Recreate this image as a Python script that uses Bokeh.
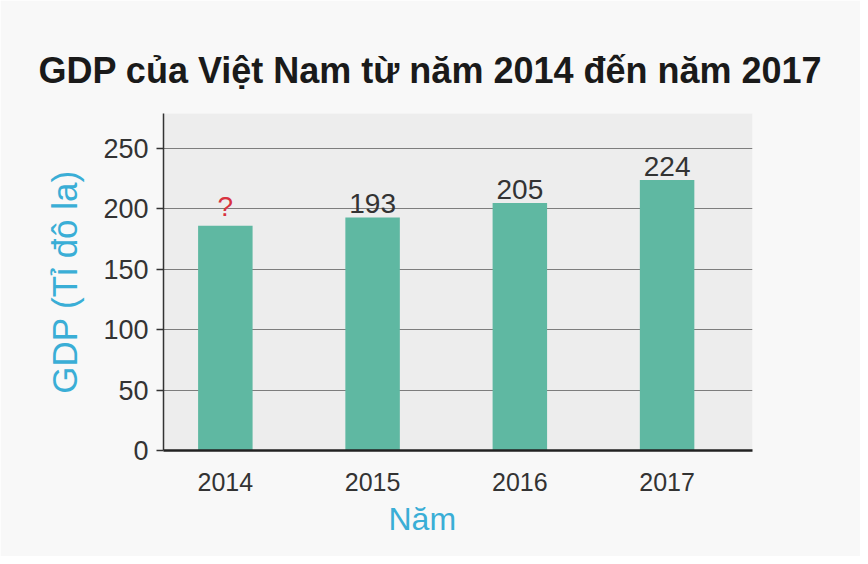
from bokeh.plotting import figure
from bokeh.models import Range1d, ColumnDataSource, LabelSet, Title, FixedTicker
from bokeh.core.properties import value
from bokeh.embed import file_html
from bokeh.resources import INLINE

years = ["2014", "2015", "2016", "2017"]
gdp = [186, 193, 205, 224]
value_labels = ["?", "193", "205", "224"]
label_colors = ["#d8333f", "#333333", "#333333", "#333333"]
y_ticks = [0, 50, 100, 150, 200, 250]

FONT = "Liberation Sans"
CYAN = "#3aaed6"
BAR = "#5fb8a2"

xs = list(range(len(years)))
src = ColumnDataSource(dict(x=xs, gdp=gdp, lab=value_labels, col=label_colors))

p = figure(width=860, height=556,
           x_range=Range1d(-0.42, len(years) - 0.42),
           y_range=Range1d(0, 279),
           output_backend="svg", toolbar_location=None,
           min_border_left=163, min_border_right=108,
           min_border_top=113, min_border_bottom=106)

p.background_fill_color = "#ededed"
p.border_fill_color = "#f8f8f8"
p.outline_line_color = None

p.vbar(x="x", top="gdp", width=0.37, source=src, fill_color=BAR, line_color=None)

p.add_layout(LabelSet(x="x", y="gdp", text="lab", text_color="col", source=src,
                      text_align="center", text_baseline="bottom", y_offset=4,
                      text_font=value(FONT), text_font_size="28px"))

# grid
p.xgrid.visible = False
p.ygrid.ticker = FixedTicker(ticks=y_ticks)
p.ygrid.grid_line_color = "#7d7d7d"
p.ygrid.grid_line_width = 1

# y axis
p.yaxis.ticker = FixedTicker(ticks=y_ticks)
p.yaxis.minor_tick_line_color = None
p.yaxis.major_tick_in = 0
p.yaxis.major_tick_out = 7
p.yaxis.major_tick_line_color = "#333333"
p.yaxis.major_tick_line_width = 1.5
p.yaxis.axis_line_color = "#333333"
p.yaxis.axis_line_width = 1.5
p.yaxis.major_label_text_font = FONT
p.yaxis.major_label_text_font_size = "27px"
p.yaxis.major_label_text_color = "#333333"
p.yaxis.major_label_standoff = 8
p.yaxis.axis_label = "GDP (Tỉ đô la)"
p.yaxis.axis_label_text_font = FONT
p.yaxis.axis_label_text_font_size = "35px"
p.yaxis.axis_label_text_font_style = "normal"
p.yaxis.axis_label_text_color = CYAN
p.yaxis.axis_label_standoff = 16

# x axis
p.xaxis.ticker = FixedTicker(ticks=xs)
p.xaxis.major_label_overrides = {i: y for i, y in zip(xs, years)}
p.xaxis.minor_tick_line_color = None
p.xaxis.major_tick_line_color = None
p.xaxis.axis_line_color = "#222222"
p.xaxis.axis_line_width = 2.5
p.xaxis.major_label_text_font = FONT
p.xaxis.major_label_text_font_size = "25px"
p.xaxis.major_label_text_color = "#333333"
p.xaxis.major_label_standoff = 16

p.add_layout(Title(text="Năm", align="left", offset=225, text_font=FONT,
                   text_font_size="32px", text_font_style="normal",
                   text_color=CYAN, standoff=10), "below")

p.title.text = "GDP của Việt Nam từ năm 2014 đến năm 2017"
p.title.align = "left"
p.title.offset = -125
p.title.standoff = 46
p.title.text_font = FONT
p.title.text_font_size = "36px"
p.title.text_font_style = "bold"
p.title.text_color = "#1a1a1a"

open("out.html", "w").write(file_html(p, INLINE))
